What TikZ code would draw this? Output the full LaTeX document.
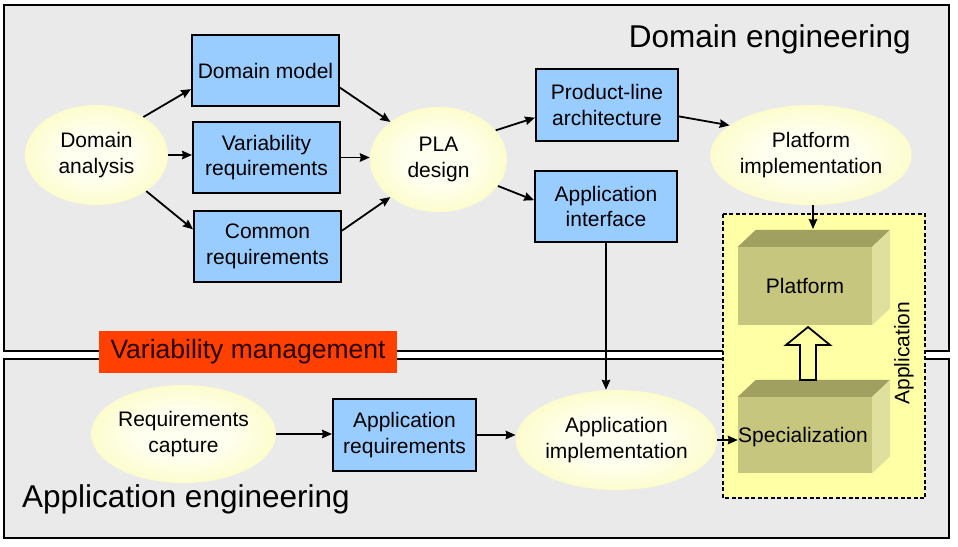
\documentclass[tikz,border=0pt]{standalone}
\usepackage{fontspec}
\setmainfont{Liberation Sans}
\usetikzlibrary{arrows.meta,shapes.geometric,calc}
\definecolor{panelgray}{HTML}{EAEAEA}
\definecolor{boxblue}{HTML}{99CCFF}
\definecolor{vmred}{HTML}{FF4000}
\definecolor{appyellow}{HTML}{FFFFA6}
\definecolor{ellyellow}{HTML}{F8F896}
\definecolor{ellcenter}{HTML}{FFFFF0}
\definecolor{olivefront}{HTML}{C6C67E}
\definecolor{olivetop}{HTML}{A0A060}
\definecolor{oliveside}{HTML}{E0E09E}
\pgfdeclareradialshading{ellshade}{\pgfpoint{0bp}{0bp}}{color(0bp)=(ellcenter); color(12bp)=(ellcenter); color(46bp)=(ellyellow); color(50bp)=(ellyellow)}
\newcommand{\dgnodefont}{\fontsize{21}{25.5}\selectfont}
\newcommand{\dgtitlefont}{\fontsize{31.5}{36}\selectfont}
\begin{document}
\begin{tikzpicture}[x=1pt,y=-1pt,
  panel/.style={draw=black, line width=2pt, fill=panelgray},
  bluebox/.style={rectangle, draw=black, line width=2pt, fill=boxblue, inner sep=0pt,
    align=center, font=\dgnodefont},
  yellipse/.style={ellipse, inner sep=0pt, shading=ellshade, align=center, font=\dgnodefont},
  olivebox/.style={rectangle, fill=olivefront, inner sep=0pt, font=\dgnodefont,
    minimum width=134pt},
  arr/.style={line width=1.8pt, -{Stealth[length=10pt,width=8.5pt,inset=1pt]}},
  hollowarrow/.style={draw=black, line width=1.8pt, fill=appyellow, line join=miter}
]
\useasboundingbox (0,0) rectangle (958,546);
\fill[white] (0,0) rectangle (958,546);
% panels
\draw[panel] (4,5) rectangle (949,351);
\draw[panel] (4,359) rectangle (949,538);
\node[anchor=base east, font=\dgtitlefont, inner sep=0pt] (detitle) at (911,47) {Domain engineering};
\node[anchor=base west, font=\dgtitlefont, inner sep=0pt] (aetitle) at (22,507) {Application engineering};
% application dashed area
\draw[dashed, line width=1.5pt, fill=appyellow, dash pattern=on 4pt off 2.5pt] (723,214) rectangle (925,498);
\node[rotate=90, font=\dgnodefont, inner sep=0pt] (applbl) at (904,353) {Application};
% domain nodes
\node[yellipse, minimum width=143pt, minimum height=100pt] (da) at (96.5,155) {Domain\\analysis};
\node[bluebox, minimum width=147pt, minimum height=71pt] (dm) at (265.5,70.5) {Domain model};
\node[bluebox, minimum width=147pt, minimum height=71pt] (vr) at (266.5,157.5) {Variability\\requirements};
\node[bluebox, minimum width=147pt, minimum height=71pt] (cr) at (267.5,246.5) {Common\\requirements};
\node[yellipse, minimum width=137pt, minimum height=105pt] (pla) at (438.5,159.5) {PLA\\design};
\node[bluebox, minimum width=142pt, minimum height=72pt] (pl) at (607,105) {Product-line\\architecture};
\node[bluebox, minimum width=142pt, minimum height=71pt] (ai) at (606,206.5) {Application\\interface};
\node[yellipse, minimum width=178pt, minimum height=100pt] (pi) at (811,155) {Platform\\implementation};
% application nodes
\node[yellipse, minimum width=177pt, minimum height=98pt] (rc) at (183.5,434) {Requirements\\capture};
\node[bluebox, minimum width=143pt, minimum height=72pt] (ar) at (404.5,435) {Application\\requirements};
\node[yellipse, minimum width=177pt, minimum height=100pt] (aimpl) at (616.5,440) {Application\\implementation};
% 3D boxes
\node[olivebox, minimum height=78pt] (plat) at (805,286) {Platform};
\fill[olivetop] (plat.north west) -- ++(18,-17) -- ($(plat.north east)+(18,-17)$) -- (plat.north east) -- cycle;
\fill[oliveside] (plat.north east) -- ++(18,-17) -- ($(plat.south east)+(18,-17)$) -- (plat.south east) -- cycle;
\coordinate (plattop) at (813,229);
\node[olivebox, minimum height=76pt] (spec) at (805,435) {};
\fill[olivetop] (spec.north west) -- ++(18,-17) -- ($(spec.north east)+(18,-17)$) -- (spec.north east) -- cycle;
\fill[oliveside] (spec.north east) -- ++(18,-17) -- ($(spec.south east)+(18,-17)$) -- (spec.south east) -- cycle;
\node[font=\dgnodefont, inner sep=0pt] (speclbl) at (803,437) {Specialization};
% hollow arrow from Specialization to Platform
\draw[hollowarrow] (800,380) -- (800,345) -- (786,345) -- (808,327) -- (830,345) -- (816,345) -- (816,380) -- cycle;
% connectors
\draw[arr] (da.39) -- (dm.194);
\draw[arr] (da.east) -- (da.east -| vr.west);
\draw[arr] (da.-36) -- (cr.167);
\draw[arr] (dm.-13) -- (pla.142);
\draw[arr] (vr.east) -- (vr.east -| pla.west);
\draw[arr] (cr.12) -- (pla.218);
\draw[arr] (pla.27) -- (pl.190);
\draw[arr] (pla.-24) -- (ai.175);
\draw[arr] (pl.-9) -- (pi.160);
\draw[arr] (plattop |- pi.south) -- (plattop);
\draw[arr] (ai.south) -- (ai.south |- aimpl.north);
\draw[arr] (rc.east) -- (rc.east -| ar.west);
\draw[arr] (ar.east) -- (ar.east -| aimpl.west);
\draw[arr] (aimpl.east) -- (aimpl.east -| spec.west);
% variability management label
\node[rectangle, fill=vmred, inner sep=0pt, minimum width=298pt, minimum height=42pt,
  font=\fontsize{26.5}{30}\selectfont, text=black!85!red] (vm) at (248,352) {Variability management};
\end{tikzpicture}
\end{document}
